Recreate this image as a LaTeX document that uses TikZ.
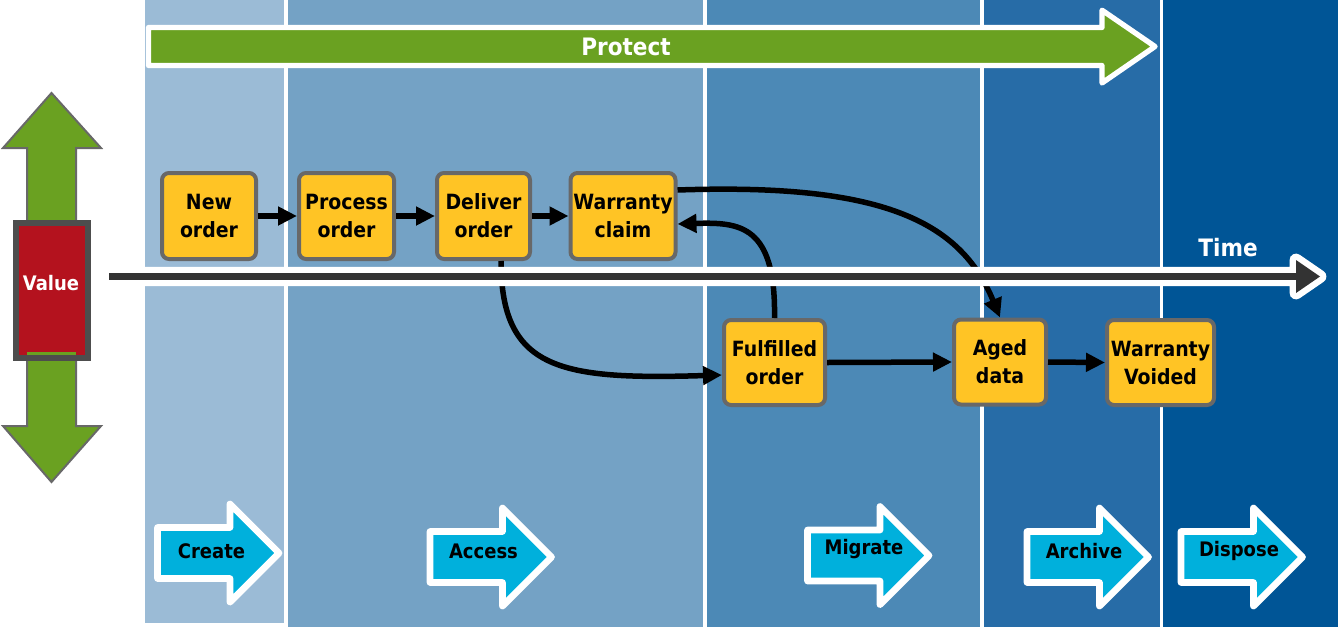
\documentclass[tikz,border=0pt]{standalone}
\usepackage{fontspec}
\setmainfont{DejaVu Sans}[FakeStretch=0.9]
\usetikzlibrary{arrows.meta}
\definecolor{colA}{RGB}{155,187,214}
\definecolor{colB}{RGB}{116,162,197}
\definecolor{colC}{RGB}{76,137,182}
\definecolor{colD}{RGB}{39,108,167}
\definecolor{colE}{RGB}{0,85,150}
\definecolor{pgreen}{RGB}{106,161,33}
\definecolor{boxyellow}{RGB}{255,196,37}
\definecolor{boxgray}{RGB}{104,104,104}
\definecolor{lcblue}{RGB}{0,176,220}
\definecolor{valred}{RGB}{180,18,30}
\definecolor{valgray}{RGB}{77,77,77}
\definecolor{timedark}{RGB}{51,51,51}
\newcommand{\LCArrow}[2]{%
  \draw[lcshape] (#1,#2-25.5) -- (#1+72.5,#2-25.5) -- (#1+72.5,#2-49) -- (#1+121.5,#2)
    -- (#1+72.5,#2+49) -- (#1+72.5,#2+25.5) -- (#1,#2+25.5) -- cycle;}
\tikzset{
  procbox/.style={draw=boxgray, line width=4pt, fill=boxyellow, rounded corners=7pt,
    minimum height=86pt, align=center, inner sep=0pt,
    font=\fontsize{21}{28}\selectfont\bfseries},
  conn/.style={line width=5.5pt, draw=black, -{Triangle[length=19pt,width=18pt]}},
  lcshape/.style={draw=white, line width=6.7pt, fill=lcblue, line join=round},
  lclabel/.style={inner sep=0pt, font=\fontsize{20}{24}\selectfont\bfseries, text=black},
  bigwhite/.style={inner sep=0pt, font=\fontsize{24}{28}\selectfont\bfseries, text=white},
}
\begin{document}
\begin{tikzpicture}[x=1pt,y=-1pt]
\useasboundingbox (0,0) rectangle (1338,627);
% lifecycle columns
\fill[colA] (145,0) rectangle (284,623);
\fill[colB] (288,0) rectangle (703,627);
\fill[colC] (707,0) rectangle (980,627);
\fill[colD] (984,0) rectangle (1160,627);
\fill[colE] (1163,0) rectangle (1338,627);
% protect arrow
\draw[draw=white, line width=5.3pt, fill=pgreen, line join=round]
  (148.5,27.5) -- (1102,27.5) -- (1102,10.2) -- (1155,46.5) -- (1102,83) -- (1102,65.5) -- (148.5,65.5) -- cycle;
\node[bigwhite] (protect) at (626,46.7) {Protect};
% boxes
\node[procbox, minimum width=94pt] (new) at (209,216) {New\\order};
\node[procbox, minimum width=95pt] (proc) at (346.5,216) {Process\\order};
\node[procbox, minimum width=93pt] (deliver) at (483.5,216) {Deliver\\order};
\node[procbox, minimum width=105pt] (warranty) at (623,216) {Warranty\\claim};
\node[procbox, minimum width=101pt, minimum height=85pt] (fulfilled) at (774.5,362.5) {Fulfilled\\order};
\node[procbox, minimum width=92pt, minimum height=85pt] (aged) at (1000,362) {Aged\\data};
\node[procbox, minimum width=107pt, minimum height=85pt] (voided) at (1160.5,362.5) {Warranty\\Voided};
% curved connectors (under the time line)
\draw[conn] ([xshift=17.5pt]deliver.south) .. controls (501,370) and (560,380) .. ([yshift=-12.5pt]fulfilled.west);
\draw[conn] (fulfilled.north) .. controls (776,225) and (740,222) .. ([yshift=-8pt]warranty.east);
\draw[conn] ([yshift=26pt]warranty.east) .. controls (880,183) and (960,220) .. (aged.north);
% time arrow
\coordinate (ttip) at (1320,276.5);
\draw[draw=white, line width=12.8pt, fill=timedark, line join=round]
  (109,273.2) -- (1296,273.2) -- (1296,260) -- (ttip) -- (1296,293) -- (1296,279.8) -- (109,279.8) -- cycle;
\fill[timedark] (109,273.2) -- (1296,273.2) -- (1296,260) -- (ttip) -- (1296,293) -- (1296,279.8) -- (109,279.8) -- cycle;
\node[bigwhite] (time) at (1228,248) {Time};
% straight connectors
\draw[conn] (new.east) -- (proc.west);
\draw[conn] (proc.east) -- (deliver.west);
\draw[conn] (deliver.east) -- (warranty.west);
\draw[conn] (fulfilled.east) -- (aged.west);
\draw[conn] (aged.east) -- (voided.west);
% lifecycle stage arrows
\LCArrow{157.5}{553}
\node[lclabel] (create) at (211.5,551.5) {Create};
\LCArrow{430}{557}
\node[lclabel] (access) at (483.5,551) {Access};
\LCArrow{807.5}{555.5}
\node[lclabel] (migrate) at (864,549.5) {Migrate};
\LCArrow{1027}{557}
\node[lclabel] (archive) at (1084,551) {Archive};
\LCArrow{1181}{557}
\node[lclabel] (dispose) at (1239,551) {Dispose};
% value double arrow
\draw[draw=boxgray, line width=2pt, fill=pgreen, line join=miter]
  (51.5,93) -- (101,148) -- (76,148) -- (76,426) -- (101,426) -- (51.5,482) -- (3,426) -- (27,426) -- (27,148) -- (3,148) -- cycle;
\draw[draw=valgray, line width=6pt, fill=valred] (16,223) rectangle (88,358);
\fill[pgreen] (27,352.3) rectangle (76,355);
\node[inner sep=0pt, font=\fontsize{20}{24}\selectfont\bfseries, text=white] (value) at (51,283) {Value};
\end{tikzpicture}
\end{document}
